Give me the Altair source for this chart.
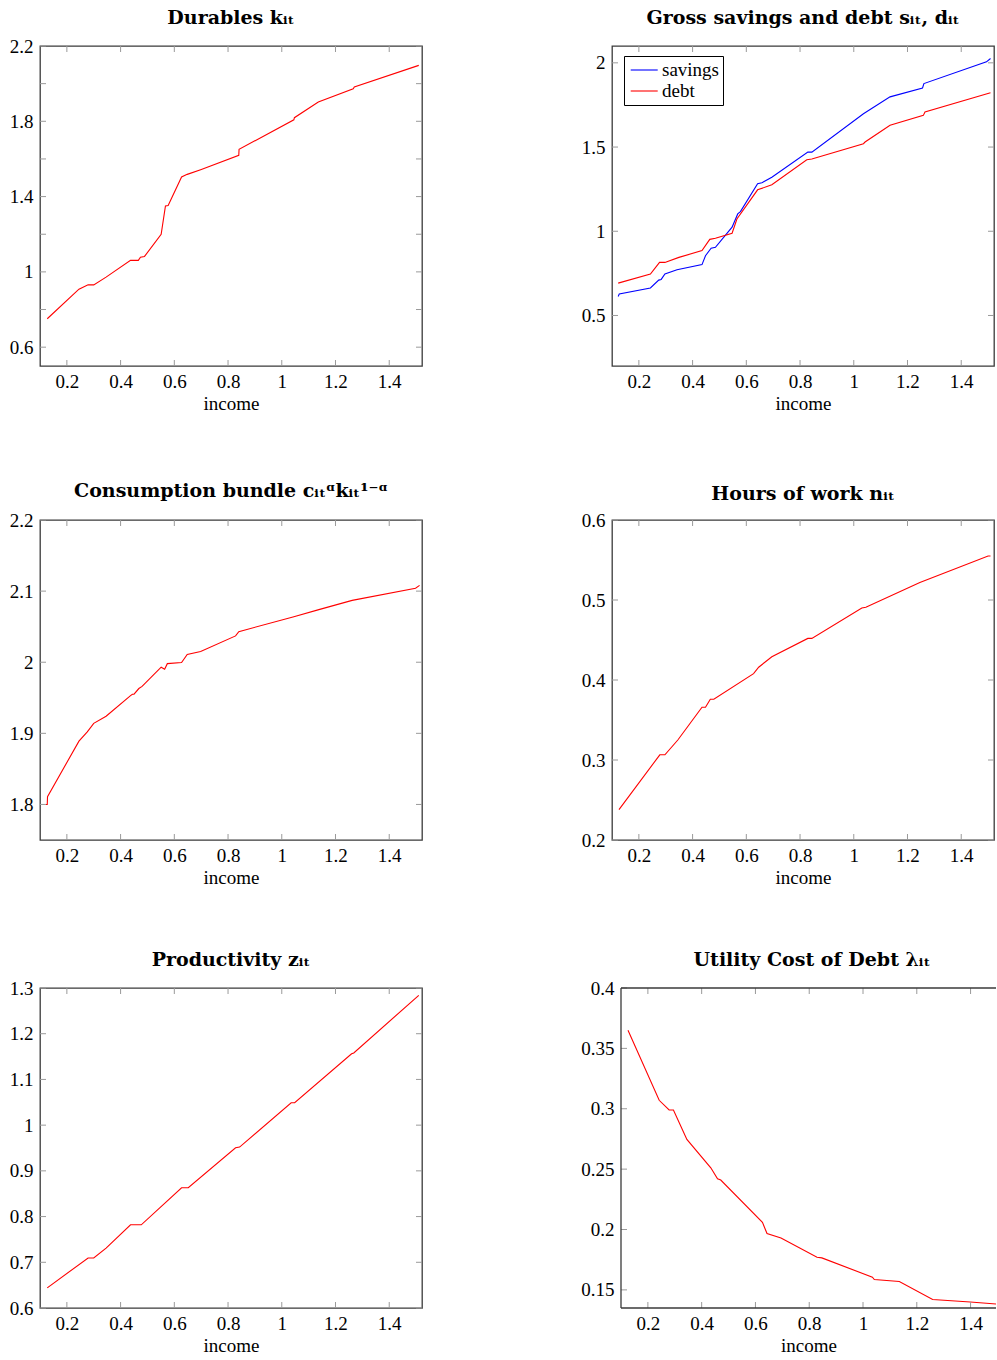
import altair as alt
import pandas as pd

# ---- values ---------------------------------------------------------------
dur_x = [0.127, 0.245, 0.279, 0.300, 0.346, 0.437, 0.466, 0.474, 0.489, 0.551, 0.567, 0.577,
         0.627, 0.648, 0.698, 0.840, 0.841, 1.045, 1.047, 1.136, 1.266, 1.270, 1.510]
dur_y = [0.751, 0.908, 0.931, 0.931, 0.972, 1.061, 1.061, 1.078, 1.082, 1.200, 1.350, 1.353,
         1.504, 1.518, 1.543, 1.619, 1.651, 1.808, 1.819, 1.902, 1.973, 1.982, 2.097]

sav_x = [0.123, 0.127, 0.243, 0.274, 0.283, 0.297, 0.342, 0.435, 0.448, 0.469, 0.485, 0.547,
         0.568, 0.578, 0.642, 0.658, 0.695, 0.829, 0.844, 1.036, 1.135, 1.256, 1.261, 1.494, 1.509]
sav_y = [0.613, 0.627, 0.663, 0.710, 0.714, 0.746, 0.772, 0.802, 0.855, 0.899, 0.905, 1.024,
         1.103, 1.117, 1.282, 1.288, 1.321, 1.470, 1.470, 1.698, 1.798, 1.851, 1.877, 2.006, 2.026]

debt_x = [0.123, 0.243, 0.277, 0.297, 0.349, 0.435, 0.464, 0.485, 0.547, 0.565, 0.642, 0.695,
          0.825, 0.844, 1.036, 1.042, 1.135, 1.259, 1.265, 1.509]
debt_y = [0.692, 0.746, 0.815, 0.815, 0.845, 0.885, 0.952, 0.958, 0.988, 1.073, 1.246, 1.276,
          1.425, 1.429, 1.520, 1.530, 1.629, 1.688, 1.708, 1.823]

cons_x = [0.121, 0.127, 0.128, 0.245, 0.276, 0.300, 0.346, 0.437, 0.444, 0.450, 0.468, 0.480,
          0.551, 0.564, 0.574, 0.627, 0.648, 0.698, 0.828, 0.840, 1.045, 1.138, 1.262, 1.498, 1.513]
cons_y = [1.800, 1.800, 1.811, 1.889, 1.902, 1.914, 1.924, 1.953, 1.955, 1.955, 1.963, 1.966,
          1.993, 1.990, 1.998, 1.9995, 2.011, 2.015, 2.037, 2.043, 2.064, 2.074, 2.087, 2.104, 2.108]

hrs_x = [0.126, 0.278, 0.297, 0.345, 0.435, 0.448, 0.466, 0.479, 0.627, 0.646, 0.695, 0.829,
         0.844, 1.030, 1.045, 1.246, 1.500, 1.509]
hrs_y = [0.238, 0.3065, 0.3065, 0.325, 0.366, 0.366, 0.376, 0.376, 0.408, 0.416, 0.429, 0.452,
         0.452, 0.490, 0.491, 0.522, 0.555, 0.555]

prod_x = [0.127, 0.279, 0.300, 0.346, 0.437, 0.477, 0.627, 0.652, 0.828, 0.843, 1.035, 1.048,
          1.260, 1.268, 1.510]
prod_y = [0.644, 0.7095, 0.7095, 0.731, 0.782, 0.782, 0.863, 0.863, 0.9504, 0.952, 1.049, 1.049,
          1.156, 1.158, 1.284]

lam_x = [0.126, 0.242, 0.279, 0.295, 0.345, 0.434, 0.459, 0.471, 0.626, 0.643, 0.695, 0.829,
         0.847, 1.035, 1.042, 1.135, 1.259, 1.399, 1.510]
lam_y = [0.365, 0.307, 0.299, 0.299, 0.2746, 0.2511, 0.242, 0.241, 0.206, 0.1967, 0.193, 0.177,
         0.1765, 0.1605, 0.1586, 0.157, 0.142, 0.140, 0.138]

x_ticks = [0.2, 0.4, 0.6, 0.8, 1.0, 1.2, 1.4]
dur_ticks = [0.6, 0.8, 1.0, 1.2, 1.4, 1.6, 1.8, 2.0, 2.2]
sd_ticks = [0.5, 1.0, 1.5, 2.0]
cons_ticks = [1.8, 1.9, 2.0, 2.1, 2.2]
hrs_ticks = [0.2, 0.3, 0.4, 0.5, 0.6]
prod_ticks = [0.6, 0.7, 0.8, 0.9, 1.0, 1.1, 1.2, 1.3]
lam_ticks = [0.15, 0.2, 0.25, 0.3, 0.35, 0.4]

series_names = ["savings", "debt"]

# ---- styling --------------------------------------------------------------
SERIF = "Liberation Serif"
TITLE_FONT = "DejaVu Serif"
FS = 19
W, H = 382, 320
TICK_LEN = 6
FRAME = "#3a3a3a"
TICK = "#9a9a9a"


def series_frame(xs, ys, name=None):
    df = pd.DataFrame({"income": xs, "value": ys})
    df["idx"] = range(len(df))
    if name is not None:
        df["series"] = name
    return df


def panel(data, title, xdom, ydom, yticks, width=W, color=None, boxed=True, title_dx=0,
          title_offset=9):
    xs = alt.Scale(domain=xdom, nice=False, zero=False)
    ys = alt.Scale(domain=ydom, nice=False, zero=False)

    x_axis = alt.Axis(values=x_ticks, format="~g", title="income", ticks=False, domain=False,
                      grid=False, labelFont=SERIF, labelFontSize=FS, labelColor="black",
                      labelPadding=6, labelFlush=False, labelOverlap=False,
                      titleFont=SERIF, titleFontSize=FS, titleFontWeight="normal",
                      titleColor="black", titlePadding=3)
    y_axis = alt.Axis(values=yticks, format="~g", title=None, ticks=False, domain=False,
                      grid=False, labelFont=SERIF, labelFontSize=FS, labelColor="black",
                      labelPadding=7, labelFlush=False, labelOverlap=False)

    enc = dict(
        x=alt.X("income:Q", scale=xs, axis=x_axis),
        y=alt.Y("value:Q", scale=ys, axis=y_axis),
        order="idx:Q",
    )
    if color is not None:
        enc["color"] = color
        line = alt.Chart(data).mark_line(strokeWidth=1.1, clip=True).encode(**enc)
    else:
        line = alt.Chart(data).mark_line(color="#ff0000", strokeWidth=1.1, clip=True).encode(**enc)

    # inward tick marks on all four sides, placed through the same scales
    xt = pd.DataFrame({"income": [v for v in x_ticks if xdom[0] <= v <= xdom[1]]})
    yt = pd.DataFrame({"value": yticks})
    rule = dict(color=TICK, strokeWidth=1)
    tx = alt.X("income:Q", scale=xs)
    ty = alt.Y("value:Q", scale=ys)
    layers = [
        line,
        alt.Chart(xt).mark_rule(**rule).encode(x=tx, y=alt.value(0), y2=alt.value(TICK_LEN)),
        alt.Chart(xt).mark_rule(**rule).encode(x=tx, y=alt.value(H - TICK_LEN), y2=alt.value(H)),
        alt.Chart(yt).mark_rule(**rule).encode(y=ty, x=alt.value(0), x2=alt.value(TICK_LEN)),
    ]
    if boxed:
        layers.append(alt.Chart(yt).mark_rule(**rule).encode(
            y=ty, x=alt.value(width - TICK_LEN), x2=alt.value(width)))
    else:
        # open on the right: only left, top and bottom edges of the frame
        edge = dict(color=FRAME, strokeWidth=1.3)
        one = pd.DataFrame({"k": [0]})
        layers += [
            alt.Chart(one).mark_rule(**edge).encode(x=alt.value(0), x2=alt.value(width), y=alt.value(0)),
            alt.Chart(one).mark_rule(**edge).encode(x=alt.value(0), x2=alt.value(width), y=alt.value(H)),
            alt.Chart(one).mark_rule(**edge).encode(x=alt.value(0), y=alt.value(0), y2=alt.value(H)),
        ]

    ch = alt.layer(*layers).properties(
        width=width, height=H,
        title=alt.Title(title, font=TITLE_FONT, fontSize=19, fontWeight="bold", color="black",
                        anchor="middle", frame="group", offset=title_offset, dx=title_dx),
    )
    if not boxed:
        ch = ch.properties(view=alt.ViewBackground(stroke=None))
    return ch


XDOM = [0.1, 1.522]

p_dur = panel(series_frame(dur_x, dur_y), "Durables kᵢₜ", XDOM, [0.5, 2.2], dur_ticks)

sd_df = pd.concat([series_frame(sav_x, sav_y, series_names[0]),
                   series_frame(debt_x, debt_y, series_names[1])], ignore_index=True)
sd_color = alt.Color(
    "series:N",
    scale=alt.Scale(domain=series_names, range=["#0000ff", "#ff0000"]),
    legend=alt.Legend(title=None, orient="none", legendX=12, legendY=10,
                      symbolType="M-0.81,0H2.19", symbolSize=324, symbolStrokeWidth=1.1,
                      labelFont=SERIF, labelFontSize=FS, labelColor="black", labelOffset=14,
                      strokeColor="black", fillColor="white", padding=4, rowPadding=1,
                      cornerRadius=0),
)
p_sd = panel(sd_df, "Gross savings and debt sᵢₜ, dᵢₜ", XDOM, [0.2, 2.1], sd_ticks,
             color=sd_color, title_offset=18)

p_cons = panel(series_frame(cons_x, cons_y), "Consumption bundle cᵢₜᵅkᵢₜ¹⁻ᵅ", XDOM, [1.75, 2.2],
               cons_ticks, title_offset=10)
p_hrs = panel(series_frame(hrs_x, hrs_y), "Hours of work nᵢₜ", XDOM, [0.2, 0.6], hrs_ticks,
              title_offset=7)
p_prod = panel(series_frame(prod_x, prod_y), "Productivity zᵢₜ", XDOM, [0.6, 1.3], prod_ticks)
p_lam = panel(series_frame(lam_x, lam_y), "Utility Cost of Debt λᵢₜ", [0.1, 1.4946],
              [0.135, 0.4], lam_ticks, width=375, boxed=False, title_dx=3.5)

row1 = alt.hconcat(p_dur, p_sd, spacing=190, bounds="flush").resolve_scale(color="independent")
row2 = alt.hconcat(p_cons, p_hrs, spacing=190, bounds="flush")
row3 = alt.hconcat(p_prod, p_lam, spacing=199, bounds="flush")

upper = alt.vconcat(row1, row2, spacing=67).resolve_scale(color="independent")
chart = alt.vconcat(upper, row3, spacing=62).resolve_scale(color="independent").properties(
    padding={"left": 8, "top": 7, "right": 0, "bottom": 0},
    background="white",
).configure_view(stroke=FRAME, strokeWidth=1.3)

chart.save("out.html", embed_options={"renderer": "svg", "actions": False})
